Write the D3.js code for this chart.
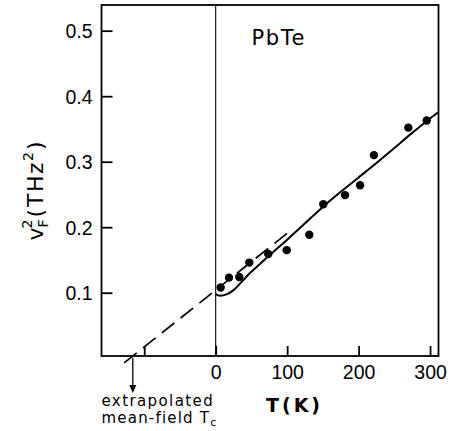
<!DOCTYPE html>
<html>
<head>
<meta charset="utf-8">
<script src="https://cdn.jsdelivr.net/npm/d3@7"></script>
<style>
  html, body { margin: 0; padding: 0; background: #fff; }
  svg { display: block; }
</style>
</head>
<body>
<div id="chart"></div>
<script>
// ---- data ----
const xTickValues = [-100, 0, 100, 200, 300];
const xTickLabels = ["", "0", "100", "200", "300"];
const yTickValues = [0.1, 0.2, 0.3, 0.4, 0.5];
const yTickLabels = ["0.1", "0.2", "0.3", "0.4", "0.5"];

// measured points: temperature (K) and nu_F^2 (THz^2)
const pointT = [7, 18.6, 33, 47, 73.6, 99.4, 131, 150.6, 181, 202, 221.5, 269.6, 295.3];
const pointV = [0.108, 0.123, 0.124, 0.146, 0.159, 0.165, 0.1885, 0.235, 0.249, 0.264, 0.310, 0.352, 0.363];

// solid theoretical curve
const curveT = [0, 6, 15, 25, 35, 48, 62, 75, 100, 125, 150, 175, 200, 225, 250, 275, 300, 311];
const curveV = [0.098, 0.0955, 0.0975, 0.104, 0.115, 0.130, 0.144, 0.157, 0.181, 0.206, 0.231, 0.254, 0.276, 0.298, 0.321, 0.344, 0.366, 0.375];

// dashed extrapolation (mean-field)
const dashT = [-128, 105];
const dashV = [-0.007, 0.195];

// ---- layout ----
const W = 452, H = 431;
const L = 101.5, R = 438.5, T0 = 5, B = 356;

const svg = d3.select("#chart").append("svg")
  .attr("width", W).attr("height", H)
  .attr("viewBox", `0 0 ${W} ${H}`);

const x = d3.scaleLinear().domain([-159.8, 311.8]).range([L, R]);
const y = d3.scaleLinear().domain([0.0034, 0.5392]).range([B, T0]);

const numFont = "'Liberation Sans', Arial, sans-serif";
const txtFont = "'DejaVu Sans', sans-serif";

// zero line
svg.append("line")
  .attr("x1", x(0)).attr("x2", x(0))
  .attr("y1", T0).attr("y2", B)
  .attr("stroke", "#000").attr("stroke-width", 1.1);

// x axis
const xAxis = d3.axisBottom(x)
  .tickValues(xTickValues)
  .tickSize(-10)
  .tickFormat((d, i) => xTickLabels[i]);
const gx = svg.append("g").attr("transform", `translate(0,${B})`).call(xAxis);
gx.select(".domain").remove();
gx.selectAll(".tick line").attr("stroke", "#000").attr("stroke-width", 1.8);
gx.selectAll(".tick text")
  .attr("y", 23).attr("dy", null)
  .attr("fill", "#000")
  .style("font-family", numFont).style("font-size", "19.5px");

// y axis
const yAxis = d3.axisLeft(y)
  .tickValues(yTickValues)
  .tickSize(-11)
  .tickFormat((d, i) => yTickLabels[i]);
const gy = svg.append("g").attr("transform", `translate(${L},0)`).call(yAxis);
gy.select(".domain").remove();
gy.selectAll(".tick line").attr("stroke", "#000").attr("stroke-width", 1.8);
gy.selectAll(".tick text")
  .attr("x", -9).attr("dy", "0.36em")
  .attr("fill", "#000")
  .style("font-family", numFont).style("font-size", "19.5px");

// frame
svg.append("rect")
  .attr("x", L).attr("y", T0)
  .attr("width", R - L).attr("height", B - T0)
  .attr("fill", "none").attr("stroke", "#000").attr("stroke-width", 1.8);

// dashed extrapolation
const line = d3.line().x(d => x(d[0])).y(d => y(d[1]));
svg.append("path")
  .datum(dashT.map((t, i) => [t, dashV[i]]))
  .attr("d", line)
  .attr("fill", "none").attr("stroke", "#000")
  .attr("stroke-width", 1.7).attr("stroke-dasharray", "16,8");

// solid curve
svg.append("path")
  .datum(curveT.map((t, i) => [t, curveV[i]]))
  .attr("d", d3.line().x(d => x(d[0])).y(d => y(d[1])).curve(d3.curveMonotoneX))
  .attr("fill", "none").attr("stroke", "#000").attr("stroke-width", 2);

// points
svg.append("g").selectAll("circle")
  .data(pointT.map((t, i) => [t, pointV[i]]))
  .join("circle")
  .attr("cx", d => x(d[0])).attr("cy", d => y(d[1]))
  .attr("r", 4.2).attr("fill", "#000");

// compound label
svg.append("text")
  .attr("x", 251.5).attr("y", 45)
  .style("font-family", txtFont).style("font-size", "21px")
  .style("letter-spacing", "1.6px")
  .text("PbTe");

// x label
svg.append("text")
  .attr("x", 266).attr("y", 411.5)
  .style("font-family", txtFont).style("font-size", "19px")
  .style("font-weight", "bold").style("letter-spacing", "3px")
  .text("T(K)");

// y label (rotated)
const yl = svg.append("text")
  .attr("transform", "translate(43,191) rotate(-90)")
  .attr("text-anchor", "middle")
  .style("font-family", txtFont).style("font-size", "22px");
yl.append("tspan").text("v");
yl.append("tspan").attr("dy", 5).style("font-size", "14px").text("F");
yl.append("tspan").attr("dx", -9).attr("dy", -16).style("font-size", "14px").text("2");
yl.append("tspan").attr("dx", 2).attr("dy", 11).text("(");
yl.append("tspan").attr("dx", 2).style("letter-spacing", "1.5px").text("THz");
yl.append("tspan").attr("dy", -10).style("font-size", "14px").text("2");
yl.append("tspan").attr("dx", 2).attr("dy", 10).text(")");

// arrow to extrapolated Tc
const ax = x(dashT[0] + (y.invert(B) - dashV[0]) / ((dashV[1] - dashV[0]) / (dashT[1] - dashT[0])));
svg.append("line")
  .attr("x1", ax).attr("x2", ax).attr("y1", B + 2).attr("y2", 386)
  .attr("stroke", "#000").attr("stroke-width", 1.3);
svg.append("path")
  .attr("d", `M${ax - 3.5},385 L${ax + 3.5},385 L${ax},393 Z`)
  .attr("fill", "#000");

svg.append("text")
  .attr("x", 101.5).attr("y", 406)
  .style("font-family", txtFont).style("font-size", "15px")
  .style("letter-spacing", "1.4px")
  .text("extrapolated");
const t2 = svg.append("text")
  .attr("x", 101.5).attr("y", 423)
  .style("font-family", txtFont).style("font-size", "15px")
  .style("letter-spacing", "1.2px");
t2.append("tspan").text("mean-field T");
t2.append("tspan").attr("dy", 3).style("font-size", "11px").text("c");
</script>
</body>
</html>
